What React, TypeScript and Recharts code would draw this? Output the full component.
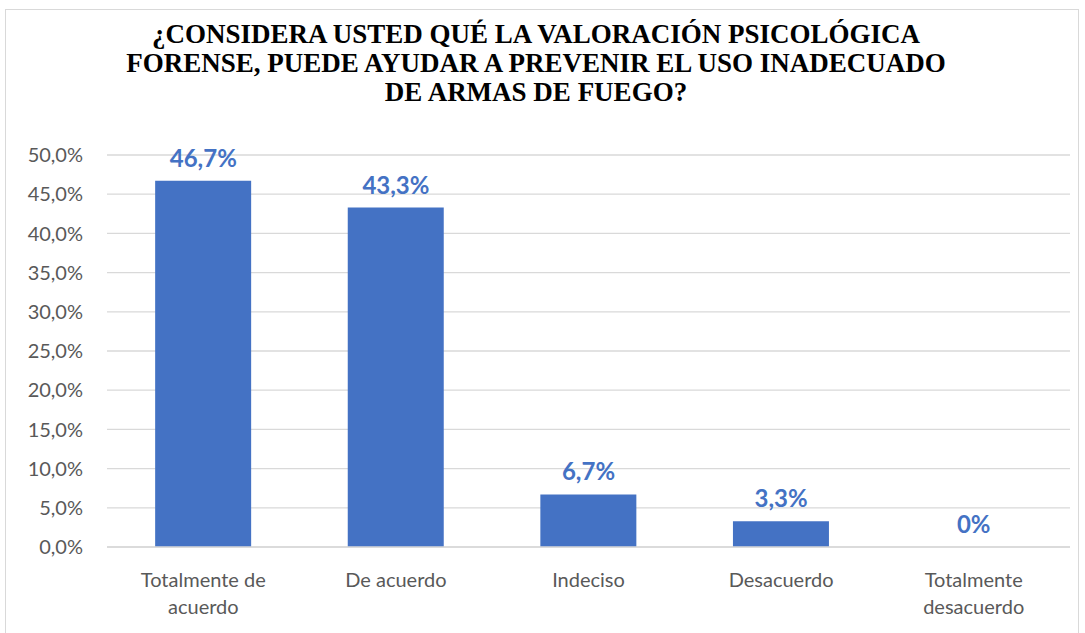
import { ComposedChart, Bar, Line, XAxis, YAxis, CartesianGrid } from "recharts"

const titleLines = [
	"¿CONSIDERA USTED QUÉ LA VALORACIÓN PSICOLÓGICA",
	"FORENSE, PUEDE AYUDAR A PREVENIR EL USO INADECUADO",
	"DE ARMAS DE FUEGO?",
]
const categories = [
	"Totalmente de\nacuerdo",
	"De acuerdo",
	"Indeciso",
	"Desacuerdo",
	"Totalmente\ndesacuerdo",
]
const percents = [46.7, 43.3, 6.7, 3.3, 0]
const yTicks = [0, 5, 10, 15, 20, 25, 30, 35, 40, 45, 50]

const data = categories.map((name, i) => ({ name, value: percents[i] }))

const FONT = "Lato, 'Open Sans', sans-serif"
const GREY = "#595959"
const BLUE = "#4472C4"

function fmtTick(v: number) {
	return v.toFixed(1).replace(".", ",") + "%"
}
function fmtLabel(v: number) {
	return v === 0 ? "0%" : v.toFixed(1).replace(".", ",") + "%"
}

function CategoryTick(props: any) {
	const { x, y, payload } = props
	const lines = String(payload.value).split("\n")
	return (
		<g transform={`translate(${x},${y})`}>
			{lines.map((line, i) => (
				<text
					key={i}
					x={0}
					y={27 + i * 27}
					textAnchor="middle"
					dominantBaseline="middle"
					fill={GREY}
					fontSize={20}
					fontFamily={FONT}
				>
					{line}
				</text>
			))}
		</g>
	)
}

// labels hang off an invisible line so the zero bar still gets "0%"
function ValueLabel(props: any) {
	const { x, y, value } = props
	return (
		<text
			x={x}
			y={Number(y) - 14}
			textAnchor="middle"
			fill={BLUE}
			fontSize={24}
			fontWeight="bold"
			fontFamily={FONT}
		>
			{fmtLabel(Number(value))}
		</text>
	)
}

export default function App() {
	return (
		<div
			style={{
				position: "absolute",
				left: 0,
				top: 0,
				width: 1085,
				height: 633,
				background: "#fff",
				overflow: "hidden",
			}}
		>
			<div
				style={{
					position: "absolute",
					left: 5,
					top: 9,
					width: 1074,
					height: 640,
					border: "1px solid #d9d9d9",
					boxSizing: "border-box",
				}}
			/>
			<div
				style={{
					position: "absolute",
					left: 0,
					top: 20,
					width: 1072,
					textAlign: "center",
					fontFamily: "'Liberation Serif', 'Times New Roman', serif",
					fontWeight: "bold",
					fontSize: 27,
					lineHeight: "29px",
					color: "#000",
				}}
			>
				{titleLines.map((l, i) => (
					<div key={i}>{l}</div>
				))}
			</div>
			<div style={{ position: "absolute", left: 0, top: 0 }}>
				<ComposedChart
					width={1085}
					height={633}
					data={data}
					margin={{ top: 155, right: 15, bottom: 0, left: 0 }}
					barCategoryGap="25%"
				>
					<CartesianGrid vertical={false} stroke="#d9d9d9" strokeWidth={1.3} />
					<XAxis
						dataKey="name"
						axisLine={{ stroke: "#d9d9d9", strokeWidth: 1.3 }}
						tickLine={false}
						tick={<CategoryTick />}
						interval={0}
						height={86}
					/>
					<YAxis
						width={107}
						domain={[0, 50]}
						ticks={yTicks}
						tickFormatter={fmtTick}
						axisLine={false}
						tickLine={false}
						tickSize={0}
						tickMargin={24}
						tick={{ fill: GREY, fontSize: 20, fontFamily: FONT }}
					/>
					<Bar dataKey="value" fill={BLUE} isAnimationActive={false} />
					<Line
						dataKey="value"
						stroke="none"
						dot={false}
						activeDot={false}
						legendType="none"
						isAnimationActive={false}
						label={<ValueLabel />}
					/>
				</ComposedChart>
			</div>
		</div>
	)
}
